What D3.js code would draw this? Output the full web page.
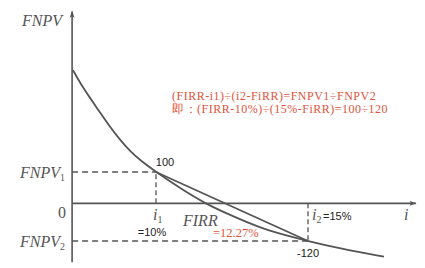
<!DOCTYPE html>
<html><head><meta charset="utf-8">
<script src="https://cdn.jsdelivr.net/npm/d3@7"></script>
<style>
html,body{margin:0;padding:0;background:#fff;}
svg{display:block;}
</style></head>
<body>
<svg id="chart" width="425" height="268"></svg>
<script>
// ---- data ----
const curveI   = [7.27, 7.50, 7.83, 8.16, 8.49, 8.82, 9.14, 9.47, 10, 10.89, 11.61, 12.43, 13.42, 14.24, 15, 16.05, 17.5];
const curveNPV = [425, 384, 336, 290, 243, 202, 167, 138, 100, 42, 0, -37, -78, -101, -120, -144, -170];
const rates    = [10, 15];        // i1, i2 (%)
const npvs     = [100, -120];     // FNPV1, FNPV2
const firr     = 12.27;
const axisI    = [7.24, 18.55];   // extent of horizontal axis
const axisNPV  = [-188, 612];     // extent of vertical axis
const formulaLines = ["(FIRR-i1)÷(i2-FiRR)=FNPV1÷FNPV2", "即：(FIRR-10%)÷(15%-FiRR)=100÷120"];

// ---- scales ----
const x = d3.scaleLinear().domain([10, 15]).range([156, 308]);
const y = d3.scaleLinear().domain([-120, 100]).range([241, 172]);

const svg = d3.select("#chart");
const grey = "#555";
const red = "#e0533b";
const serif = "'Liberation Serif','Times New Roman',serif";
const sans = "'Liberation Sans',Arial,sans-serif";

svg.append("defs").append("marker")
  .attr("id","arr").attr("viewBox","0 0 10 10").attr("refX",9).attr("refY",5)
  .attr("markerWidth",10).attr("markerHeight",7).attr("markerUnits","userSpaceOnUse")
  .attr("orient","auto")
  .append("path").attr("d","M0,1.5 L10,5 L0,8.5 L2,5 Z").attr("fill",grey);

// axes
svg.append("line").attr("x1",x(axisI[0])).attr("x2",x(axisI[0]))
  .attr("y1",y(axisNPV[0])).attr("y2",y(axisNPV[1]))
  .attr("stroke",grey).attr("stroke-width",1.6).attr("marker-end","url(#arr)");
svg.append("line").attr("x1",x(axisI[0])).attr("x2",x(axisI[1]))
  .attr("y1",y(0)).attr("y2",y(0))
  .attr("stroke",grey).attr("stroke-width",1.6).attr("marker-end","url(#arr)");

// dashed guides
const dash = "6,4";
rates.forEach((r,k)=>{
  svg.append("line").attr("x1",x(axisI[0])).attr("x2",x(r))
    .attr("y1",y(npvs[k])).attr("y2",y(npvs[k]))
    .attr("stroke",grey).attr("stroke-width",1.3).attr("stroke-dasharray",dash);
  svg.append("line").attr("x1",x(r)).attr("x2",x(r))
    .attr("y1",y(0)).attr("y2",y(npvs[k]))
    .attr("stroke",grey).attr("stroke-width",1.3).attr("stroke-dasharray","5,3");
});

// curve
const pts = curveI.map((v,i)=>[v, curveNPV[i]]);
svg.append("path").datum(pts)
  .attr("d", d3.line().x(d=>x(d[0])).y(d=>y(d[1])).curve(d3.curveBasis))
  .attr("fill","none").attr("stroke",grey).attr("stroke-width",1.8);

// chord
svg.append("line").attr("x1",x(rates[0])).attr("y1",y(npvs[0]))
  .attr("x2",x(rates[1])).attr("y2",y(npvs[1]))
  .attr("stroke",grey).attr("stroke-width",1.8);

// labels
function italicSub(xp, yp, main, sub, size, anchor){
  const t = svg.append("text").attr("x",xp).attr("y",yp)
    .attr("font-family",serif).attr("font-style","italic").attr("font-size",size)
    .attr("fill",grey).attr("text-anchor",anchor||"start");
  t.append("tspan").text(main);
  if(sub!==null){
    t.append("tspan").attr("font-style","normal").attr("font-size",size*0.62).attr("dy",3).text(sub);
  }
  return t;
}
italicSub(22, 26, "FNPV", null, 16);
italicSub(20, y(npvs[0])+6, "FNPV", "1", 16);
italicSub(20, y(npvs[1])+6, "FNPV", "2", 16);
svg.append("text").attr("x",62).attr("y",y(0)+15).attr("text-anchor","middle")
  .attr("font-family",serif).attr("font-size",16).attr("fill",grey).text("0");
italicSub(x(rates[0])-3, y(0)+17, "i", "1", 16);
svg.append("text").attr("x",x(rates[0])-4).attr("y",y(0)+33).attr("text-anchor","middle")
  .attr("font-family",sans).attr("font-size",11).attr("fill","#222").text("=" + rates[0] + "%");
italicSub(x(rates[1])+4, y(0)+17, "i", "2", 16);
svg.append("text").attr("x",x(rates[1])+15).attr("y",y(0)+17)
  .attr("font-family",sans).attr("font-size",11).attr("fill","#222").text("=" + rates[1] + "%");
italicSub(x(axisI[1])-12, y(0)+17, "i", null, 16);
italicSub(183, y(0)+23, "FIRR", null, 16);
svg.append("text").attr("x",213).attr("y",y(0)+34)
  .attr("font-family",serif).attr("font-size",12.5).attr("fill",red).text("=" + firr + "%");
svg.append("text").attr("x",x(rates[0])+9).attr("y",y(npvs[0])-6).attr("text-anchor","middle")
  .attr("font-family",sans).attr("font-size",11).attr("fill","#222").text(npvs[0]);
svg.append("text").attr("x",x(rates[1])).attr("y",y(npvs[1])+16).attr("text-anchor","middle")
  .attr("font-family",sans).attr("font-size",11).attr("fill","#222").text(npvs[1]);

formulaLines.forEach((s,k)=>{
  svg.append("text").attr("x",172).attr("y",100+k*13)
    .attr("font-family",serif).attr("font-size",12).attr("letter-spacing",0.5)
    .attr("fill",red).text(s);
});
</script>
</body></html>
